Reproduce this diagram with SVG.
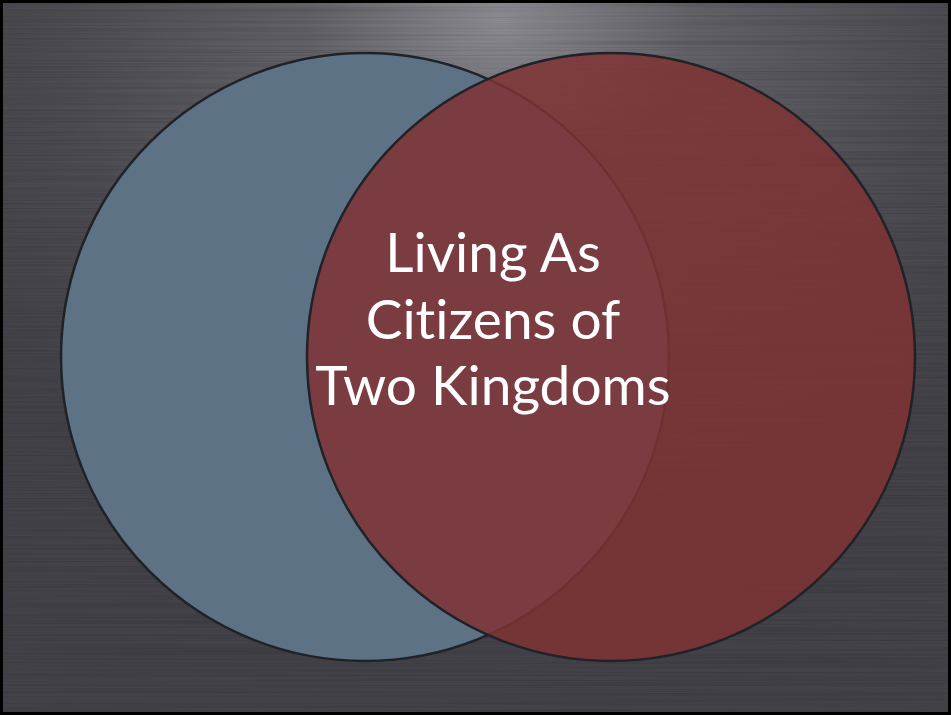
<svg xmlns="http://www.w3.org/2000/svg" width="951" height="715" viewBox="0 0 951 715">
<style>
.outline{stroke:#1f2226;stroke-width:2.5}
.label{font-family:Lato,"Open Sans","Liberation Sans",sans-serif;font-size:55px;fill:#ffffff;text-anchor:middle;font-variant-ligatures:none}
</style>
<defs>
<radialGradient id="bg" cx="500" cy="20" r="640" gradientUnits="userSpaceOnUse" gradientTransform="translate(500 20) scale(1 0.8) translate(-500 -20)">
<stop offset="0" stop-color="#8c8b91"/>
<stop offset="0.3" stop-color="#626167"/>
<stop offset="0.7" stop-color="#4b4b51"/>
<stop offset="1" stop-color="#424248"/>
</radialGradient>
<filter id="brush" x="0" y="0" width="100%" height="100%">
<feTurbulence type="fractalNoise" baseFrequency="0.002 0.6" numOctaves="2" seed="3"/>
<feColorMatrix type="matrix" values="0 0 0 0 0  0 0 0 0 0  0 0 0 0 0  0.9 0 0 0 -0.35"/>
</filter>
</defs>
<rect x="0" y="0" width="951" height="715" fill="#000"/>
<rect x="3" y="3" width="945" height="709" fill="url(#bg)"/>
<rect x="3" y="3" width="945" height="709" filter="url(#brush)" opacity="0.3"/>
<g id="circle-left">
<circle cx="365" cy="357" r="304" fill="#5e7286" class="outline"/>
</g>
<g id="circle-right">
<circle cx="611" cy="357" r="304" fill="#803233" fill-opacity="0.84" class="outline"/>
</g>
<g id="title">
<text class="label" x="493" y="272">Living As</text>
<text class="label" x="493" y="339">Citizens of</text>
<text class="label" x="493" y="405">Two Kingdoms</text>
</g>
</svg>
